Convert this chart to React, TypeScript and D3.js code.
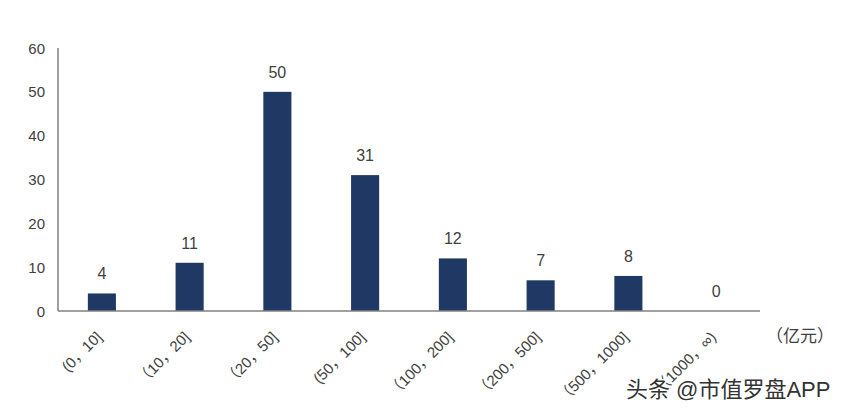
import React from "react";
import * as d3 from "d3";

const categories = ["(0，10]", "（10，20]", "（20，50]", "(50，100]", "（100，200]", "（200，500]", "（500，1000]", "（1000，∞)"];
const counts = [4, 11, 50, 31, 12, 7, 8, 0];
const yTicks = [0, 10, 20, 30, 40, 50, 60];
const unitLabel = "（亿元）";
const watermark = "头条 @市值罗盘APP";

const W = 843;
const H = 416;
const left = 58;
const right = 760;
const top = 48;
const bottom = 311;
const barColor = "#1f3864";
const textColor = "#404040";
const axisColor = "#808080";
const font = "'Liberation Sans', Arial, 'Noto Sans CJK SC', sans-serif";

export default function App() {
  const x = d3.scaleBand<string>().domain(categories).range([left, right]).paddingInner(0.68).paddingOuter(0.34);
  const y = d3.scaleLinear().domain([0, 60]).range([bottom, top]);

  return (
    <svg width={W} height={H} style={{ position: "absolute", left: 0, top: 0, background: "#fff" }} fontFamily={font}>
      {counts.map((v, i) => {
        const cx = x(categories[i])! + x.bandwidth() / 2;
        return (
          <g key={i}>
            {v > 0 && (
              <rect x={x(categories[i])} y={y(v)} width={x.bandwidth()} height={y(0) - y(v)} fill={barColor} />
            )}
            <text x={cx} y={y(v) - 14} textAnchor="middle" fontSize={16} fill={textColor}>{v}</text>
            <text
              transform={`translate(${cx + 1},${bottom + 27}) rotate(-45)`}
              textAnchor="end"
              fontSize={15}
              fill={textColor}
            >{categories[i]}</text>
          </g>
        );
      })}
      {yTicks.map((t) => (
        <text key={t} x={45} y={y(t) + 5.5} textAnchor="end" fontSize={15} fill={textColor}>{t}</text>
      ))}
      <line x1={left} x2={left} y1={top} y2={bottom} stroke={axisColor} strokeWidth={1.5} />
      <line x1={left} x2={right} y1={bottom} y2={bottom} stroke={axisColor} strokeWidth={1.5} />
      <text x={766} y={342} fontSize={17} fill={textColor}>{unitLabel}</text>
      <text x={626} y={397} fontSize={22} fill="#333" stroke="#fff" strokeWidth={3} paintOrder="stroke">{watermark}</text>
    </svg>
  );
}
